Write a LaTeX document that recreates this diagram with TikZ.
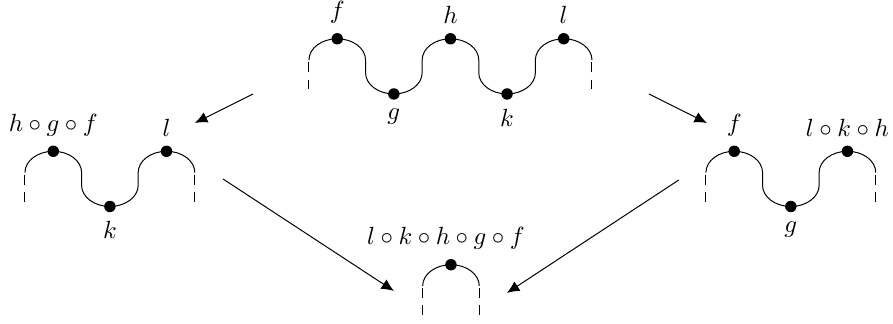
\documentclass[tikz,border=0pt]{standalone}
\usepackage{amsmath,amssymb}
\usepackage{tikz}
\usetikzlibrary{positioning, calc, arrows.meta}

\begin{document}
\begin{tikzpicture}[
    dot/.style={circle, fill, inner sep=0pt, minimum size=4.6pt},
    stub/.style={dash pattern=on 4pt off 3pt},
    >={Latex[length=5pt, width=4.5pt]}
  ]

    \useasboundingbox (0,0) rectangle (12.62,4.578);

    % ---------------------------------------------------
    % Top: f, g, h, k, l
    % ---------------------------------------------------
    \begin{scope}[shift={(4.366,3.73)}]
        \draw[stub] (0,-0.03) -- (0,-0.42);
        \draw (0,0) arc[start angle=180, end angle=0, x radius=0.4, y radius=0.3]
            -- ++(0,-0.18) arc[start angle=180, end angle=360, x radius=0.4, y radius=0.3]
            -- ++(0,0.18) arc[start angle=180, end angle=0, x radius=0.4, y radius=0.3]
            -- ++(0,-0.18) arc[start angle=180, end angle=360, x radius=0.4, y radius=0.3]
            -- ++(0,0.18) arc[start angle=180, end angle=0, x radius=0.4, y radius=0.3];
        \draw[stub] (4,-0.03) -- (4,-0.42);

        \node[dot, label=above:$f$] (top-f) at (0.4,0.3) {};
        \node[dot, label=below:$g$] (top-g) at (1.2,-0.48) {};
        \node[dot, label=above:$h$] (top-h) at (2.0,0.3) {};
        \node[dot, label=below:$k$] (top-k) at (2.8,-0.48) {};
        \node[dot, label=above:$l$] (top-l) at (3.6,0.3) {};
    \end{scope}

    % ---------------------------------------------------
    % Left: h o g o f, k, l
    % ---------------------------------------------------
    \begin{scope}[shift={(0.353,2.14)}]
        \draw[stub] (0,-0.03) -- (0,-0.42);
        \draw (0,0) arc[start angle=180, end angle=0, x radius=0.4, y radius=0.3]
            -- ++(0,-0.18) arc[start angle=180, end angle=360, x radius=0.4, y radius=0.3]
            -- ++(0,0.18) arc[start angle=180, end angle=0, x radius=0.4, y radius=0.3];
        \draw[stub] (2.4,-0.03) -- (2.4,-0.42);

        \node[dot, label=above:$h\circ g\circ f$] (left-hgf) at (0.4,0.3) {};
        \node[dot, label=below:$k$] (left-k) at (1.2,-0.48) {};
        \node[dot, label=above:$l$] (left-l) at (2.0,0.3) {};
    \end{scope}

    % ---------------------------------------------------
    % Right: f, g, l o k o h
    % ---------------------------------------------------
    \begin{scope}[shift={(9.976,2.14)}]
        \draw[stub] (0,-0.03) -- (0,-0.42);
        \draw (0,0) arc[start angle=180, end angle=0, x radius=0.4, y radius=0.3]
            -- ++(0,-0.18) arc[start angle=180, end angle=360, x radius=0.4, y radius=0.3]
            -- ++(0,0.18) arc[start angle=180, end angle=0, x radius=0.4, y radius=0.3];
        \draw[stub] (2.4,-0.03) -- (2.4,-0.42);

        \node[dot, label=above:$f$] (right-f) at (0.4,0.3) {};
        \node[dot, label=below:$g$] (right-g) at (1.2,-0.48) {};
        \node[dot, label=above:$l\circ k\circ h$] (right-lkh) at (2.0,0.3) {};
    \end{scope}

    % ---------------------------------------------------
    % Bottom: everything composed
    % ---------------------------------------------------
    \begin{scope}[shift={(5.973,0.537)}]
        \draw[stub] (0,-0.03) -- (0,-0.42);
        \draw (0,0) arc[start angle=180, end angle=0, x radius=0.4, y radius=0.3];
        \draw[stub] (0.8,-0.03) -- (0.8,-0.42);

        \node[dot, label={[xshift=-0.07cm]above:$l\circ k\circ h\circ g\circ f$}] (bot-all) at (0.4,0.3) {};
    \end{scope}

    % ---------------------------------------------------
    % Arrows
    % ---------------------------------------------------
    \coordinate (tl-from) at (3.575,3.25);
    \coordinate (tl-to)   at (2.755,2.84);
    \coordinate (tr-from) at (9.17,3.25);
    \coordinate (tr-to)   at (9.99,2.84);
    \coordinate (bl-from) at (3.151,2.049);
    \coordinate (bl-to)   at (5.567,0.466);
    \coordinate (br-from) at (9.594,2.035);
    \coordinate (br-to)   at (7.164,0.438);

    \draw[->] (tl-from) -- (tl-to);
    \draw[->] (tr-from) -- (tr-to);
    \draw[->] (bl-from) -- (bl-to);
    \draw[->] (br-from) -- (br-to);

\end{tikzpicture}
\end{document}
